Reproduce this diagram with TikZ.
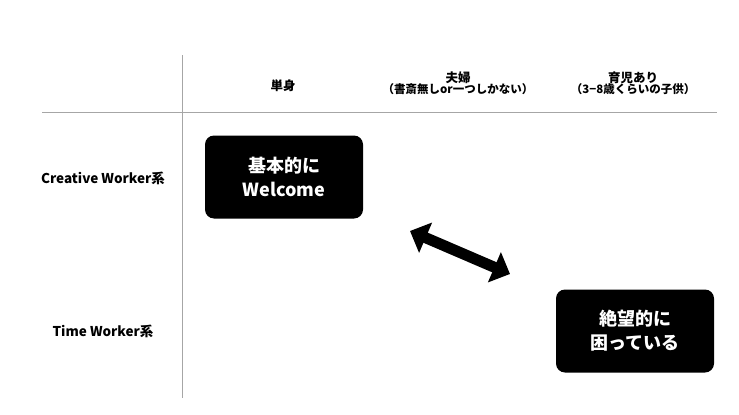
\documentclass[tikz,border=0pt]{standalone}
\usepackage{fontspec}
\setmainfont{Noto Sans CJK JP}
\usetikzlibrary{arrows.meta}
\begin{document}
\begin{tikzpicture}[
    x=1pt, y=-1pt,
    font=\bfseries,
    head/.style = {font=\bfseries\fontsize{12.5}{14}\selectfont, align=center},
    rowlabel/.style = {font=\bfseries\fontsize{13.5}{15}\selectfont},
    blackbox/.style = {fill=black, text=white, rounded corners=9pt, minimum width=158pt, minimum height=83pt, align=center, font=\bfseries\fontsize{18}{24}\selectfont},
    grid/.style = {draw=gray!70, line width=1pt}
    ]
    \useasboundingbox (0,0) rectangle (739,415);
    % axes
    \coordinate (vtop) at (182,55);
    \coordinate (vbot) at (182,398);
    \coordinate (hl) at (42,112);
    \coordinate (hr) at (717,112);
    \draw[grid] (vtop) -- (vbot);
    \draw[grid] (hl) -- (hr);
    % column heads
    \node[head] (single) at (283,86) {単身};
    \node[head] (couple) at (458,83) {夫婦\\[-3pt]{\fontsize{11.5}{13}\selectfont（書斎無しor一つしかない）}};
    \node[head] (child) at (633,83) {育児あり\\[-3pt]{\fontsize{11.5}{13}\selectfont（3−8歳くらいの子供）}};
    % row heads
    \node[rowlabel] (creative) at (103,178) {Creative Worker系};
    \node[rowlabel] (time) at (103,331) {Time Worker系};
    % boxes
    \node[blackbox] (welcome) at (284,177) {基本的に\\Welcome};
    \node[blackbox] (trouble) at (635,331) {絶望的に\\困っている};
    \coordinate (a1) at (410,231);
    \coordinate (a2) at (510,274);
    \draw[line width=11pt, {Triangle[length=17pt,width=32pt]}-{Triangle[length=17pt,width=32pt]}] (a1) -- (a2);
\end{tikzpicture}
\end{document}
